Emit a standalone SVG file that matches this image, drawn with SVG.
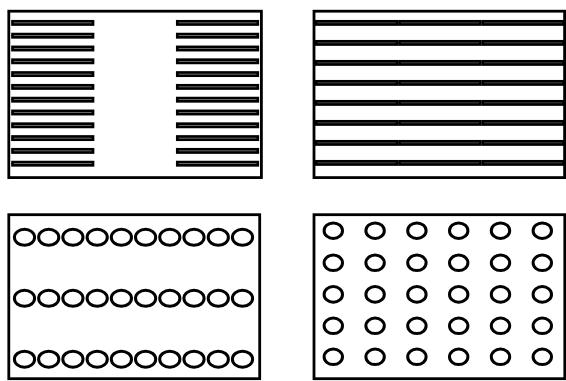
<svg xmlns="http://www.w3.org/2000/svg" width="566" height="381" viewBox="0 0 566 381">
<style>
.frame{fill:#fff;stroke:#000;stroke-width:2.8}
.barA{fill:#d0d0d0;stroke:#000;stroke-width:2.7}
.barB{fill:#888;stroke:#000;stroke-width:2.7}
.hole{fill:none;stroke:#000;stroke-width:3}
</style>
<defs>
<rect id="ba" class="barA" width="80.5" height="3.2"/>
<g id="bb">
<rect class="barB" x="316.2" width="80.8" height="3.2"/>
<rect class="barB" x="399.5" width="80.8" height="3.2"/>
<rect class="barB" x="482.8" width="80.8" height="3.2"/>
</g>
<ellipse id="ea" class="hole" rx="10.1" ry="8"/>
<ellipse id="eb" class="hole" rx="9.2" ry="7.8"/>
</defs>
<rect width="566" height="381" fill="#fff"/>
<g id="panel-top-left">
<rect class="frame" x="8.8" y="11.2" width="252.6" height="166.4"/>
<g id="bars-left">
<use href="#ba" x="12.5" y="21.3"/><use href="#ba" x="12.5" y="34.1"/><use href="#ba" x="12.5" y="46.9"/><use href="#ba" x="12.5" y="59.7"/>
<use href="#ba" x="12.5" y="72.5"/><use href="#ba" x="12.5" y="85.3"/><use href="#ba" x="12.5" y="98.1"/><use href="#ba" x="12.5" y="110.9"/>
<use href="#ba" x="12.5" y="123.7"/><use href="#ba" x="12.5" y="136.5"/><use href="#ba" x="12.5" y="149.3"/><use href="#ba" x="12.5" y="162.1"/>
</g>
<g id="bars-right">
<use href="#ba" x="177.3" y="21.3"/><use href="#ba" x="177.3" y="34.1"/><use href="#ba" x="177.3" y="46.9"/><use href="#ba" x="177.3" y="59.7"/>
<use href="#ba" x="177.3" y="72.5"/><use href="#ba" x="177.3" y="85.3"/><use href="#ba" x="177.3" y="98.1"/><use href="#ba" x="177.3" y="110.9"/>
<use href="#ba" x="177.3" y="123.7"/><use href="#ba" x="177.3" y="136.5"/><use href="#ba" x="177.3" y="149.3"/><use href="#ba" x="177.3" y="162.1"/>
</g>
</g>
<g id="panel-top-right">
<rect class="frame" x="314" y="11.2" width="250.6" height="166.4"/>
<use href="#bb" y="21.3"/><use href="#bb" y="41.3"/><use href="#bb" y="61.3"/><use href="#bb" y="81.3"/>
<use href="#bb" y="101.3"/><use href="#bb" y="121.3"/><use href="#bb" y="141.3"/><use href="#bb" y="161.3"/>
</g>
<g id="panel-bottom-left">
<rect class="frame" x="8.8" y="214.7" width="250.9" height="164"/>
<g id="row1">
<use href="#ea" x="24.5" y="237.3"/><use href="#ea" x="48.7" y="237.3"/><use href="#ea" x="72.9" y="237.3"/><use href="#ea" x="97.2" y="237.3"/><use href="#ea" x="121.4" y="237.3"/>
<use href="#ea" x="145.6" y="237.3"/><use href="#ea" x="169.8" y="237.3"/><use href="#ea" x="194" y="237.3"/><use href="#ea" x="218.3" y="237.3"/><use href="#ea" x="242.5" y="237.3"/>
</g>
<g id="row2">
<use href="#ea" x="24.5" y="298.3"/><use href="#ea" x="48.7" y="298.3"/><use href="#ea" x="72.9" y="298.3"/><use href="#ea" x="97.2" y="298.3"/><use href="#ea" x="121.4" y="298.3"/>
<use href="#ea" x="145.6" y="298.3"/><use href="#ea" x="169.8" y="298.3"/><use href="#ea" x="194" y="298.3"/><use href="#ea" x="218.3" y="298.3"/><use href="#ea" x="242.5" y="298.3"/>
</g>
<g id="row3">
<use href="#ea" x="24.5" y="359.2"/><use href="#ea" x="48.7" y="359.2"/><use href="#ea" x="72.9" y="359.2"/><use href="#ea" x="97.2" y="359.2"/><use href="#ea" x="121.4" y="359.2"/>
<use href="#ea" x="145.6" y="359.2"/><use href="#ea" x="169.8" y="359.2"/><use href="#ea" x="194" y="359.2"/><use href="#ea" x="218.3" y="359.2"/><use href="#ea" x="242.5" y="359.2"/>
</g>
</g>
<g id="panel-bottom-right">
<rect class="frame" x="314" y="214.7" width="250.8" height="164"/>
<g>
<use href="#eb" x="333.3" y="230.7"/><use href="#eb" x="375.1" y="230.7"/><use href="#eb" x="416.9" y="230.7"/><use href="#eb" x="458.7" y="230.7"/><use href="#eb" x="500.5" y="230.7"/><use href="#eb" x="542.3" y="230.7"/>
<use href="#eb" x="333.3" y="262.8"/><use href="#eb" x="375.1" y="262.8"/><use href="#eb" x="416.9" y="262.8"/><use href="#eb" x="458.7" y="262.8"/><use href="#eb" x="500.5" y="262.8"/><use href="#eb" x="542.3" y="262.8"/>
<use href="#eb" x="333.3" y="294.4"/><use href="#eb" x="375.1" y="294.4"/><use href="#eb" x="416.9" y="294.4"/><use href="#eb" x="458.7" y="294.4"/><use href="#eb" x="500.5" y="294.4"/><use href="#eb" x="542.3" y="294.4"/>
<use href="#eb" x="333.3" y="325.8"/><use href="#eb" x="375.1" y="325.8"/><use href="#eb" x="416.9" y="325.8"/><use href="#eb" x="458.7" y="325.8"/><use href="#eb" x="500.5" y="325.8"/><use href="#eb" x="542.3" y="325.8"/>
<use href="#eb" x="333.3" y="356.8"/><use href="#eb" x="375.1" y="356.8"/><use href="#eb" x="416.9" y="356.8"/><use href="#eb" x="458.7" y="356.8"/><use href="#eb" x="500.5" y="356.8"/><use href="#eb" x="542.3" y="356.8"/>
</g>
</g>
</svg>
